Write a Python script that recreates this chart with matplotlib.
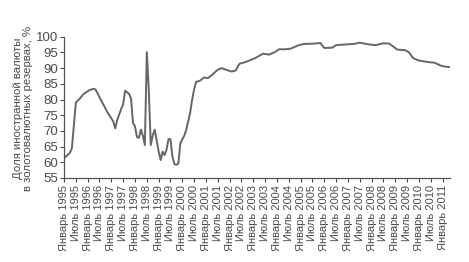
import matplotlib
matplotlib.use("Agg")
import matplotlib.pyplot as plt

months = ["1995-01","1995-04","1995-05","1995-07","1995-09","1995-11","1996-02","1996-04","1996-05",
          "1996-08","1996-11","1997-01","1997-02","1997-03","1997-04","1997-06","1997-07","1997-08",
          "1997-10","1997-11","1997-12","1998-01","1998-02","1998-03","1998-04","1998-05","1998-06",
          "1998-07","1998-08","1998-09","1998-10","1998-11","1998-12","1999-01","1999-02","1999-03",
          "1999-04","1999-05","1999-06","1999-07","1999-08","1999-09","1999-10","1999-11","1999-12",
          "2000-02","2000-03","2000-05","2000-06","2000-07","2000-08","2000-10","2000-12","2001-02",
          "2001-04","2001-07","2001-09","2001-11","2002-02","2002-04","2002-06","2002-09","2003-02",
          "2003-06","2003-09","2003-12","2004-02","2004-05","2004-08","2004-12","2005-03","2005-08",
          "2005-11","2006-01","2006-05","2006-07","2006-11","2007-04","2007-07","2007-11","2008-03",
          "2008-07","2008-10","2009-02","2009-06","2009-08","2009-10","2010-01","2010-06","2010-09",
          "2010-12","2011-02","2011-05"]
share = [61.3,63.0,64.5,79.0,80.3,81.8,83.0,83.4,83.2,
         79.5,76.0,74.0,73.0,70.8,73.5,77.0,78.5,82.8,
         81.8,80.3,72.5,71.5,68.0,67.8,70.4,68.5,65.5,
         95.1,83.0,65.5,68.5,70.4,67.0,63.5,60.7,63.4,
         62.3,64.0,67.4,67.4,61.8,59.4,59.2,59.6,66.1,
         68.5,70.4,75.8,80.0,83.3,85.6,86.0,87.0,86.8,
         87.8,89.5,90.0,89.5,88.9,89.2,91.4,91.9,93.2,
         94.6,94.3,95.1,96.0,96.0,96.2,97.3,97.7,97.8,
         98.0,96.4,96.5,97.3,97.5,97.7,98.1,97.6,97.3,
         97.9,97.8,95.9,95.7,95.0,93.2,92.4,91.9,91.7,
         90.8,90.5,90.3]

tick_labels = []
for yr in range(1995, 2012):
    tick_labels.append(f"Январь {yr}")
    if yr < 2011:
        tick_labels.append(f"Июль {yr}")

y_label = "Доля иностранной валюты\nв золотовалютных резервах, %"

def to_year(s):
    y, m = s.split("-")
    return int(y) + (int(m) - 1) / 12.0

x = [to_year(s) for s in months]
tick_pos = [1995 + 0.5 * i for i in range(len(tick_labels))]

plt.rcParams['font.family'] = ['Liberation Sans', 'DejaVu Sans']
txt = '#4a4a4a'

fig = plt.figure(figsize=(4.69, 2.62), dpi=100)
ax = fig.add_axes([64/469, 1 - 178/262, (450-64)/469, (178-36.7)/262])
ax.plot(x, share, color='#666666', lw=1.4)

ax.set_xlim(1995, 1995 + (450 - 65) / 23.6)
ax.set_ylim(55, 100)
ax.set_yticks(range(55, 101, 5))
ax.set_xticks(tick_pos)
ax.set_xticklabels(tick_labels, rotation=90, fontsize=8, color=txt)
ax.tick_params(axis='y', labelsize=9.5, colors=txt, length=3, width=0.8, pad=1)
ax.tick_params(axis='x', colors=txt, length=3, width=0.8, pad=2, direction='out')
for s in ['top', 'right']:
    ax.spines[s].set_visible(False)
for s in ['left', 'bottom']:
    ax.spines[s].set_color('#555555')
    ax.spines[s].set_linewidth(0.9)
ax.set_ylabel(y_label, fontsize=8.2, color=txt, linespacing=1.0, va='center')
ax.yaxis.set_label_coords(-0.105, 0.49)

fig.savefig("out.png", dpi=100)
